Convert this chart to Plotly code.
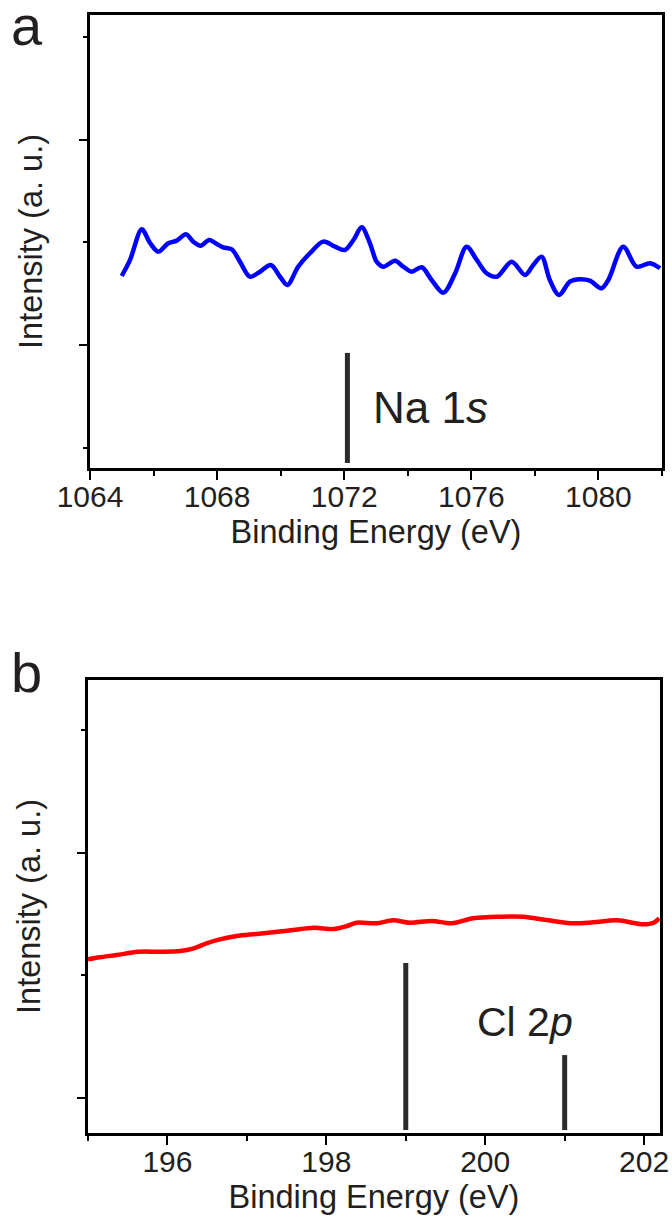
import plotly.graph_objects as go

# ---------------- data ----------------
# Panel a: Na 1s region (binding energy in eV, intensity in a.u.)
na_energy = [1065.00, 1065.26, 1065.63, 1065.89, 1066.15, 1066.46, 1066.73, 1067.02,
             1067.25, 1067.48, 1067.75, 1067.99, 1068.19, 1068.46, 1068.72, 1069.03,
             1069.35, 1069.69, 1069.98, 1070.21, 1070.55, 1070.92, 1071.34, 1071.71,
             1072.02, 1072.29, 1072.55, 1072.81, 1073.02, 1073.23, 1073.60, 1073.86,
             1074.12, 1074.44, 1074.75, 1075.12, 1075.49, 1075.85, 1076.17, 1076.48,
             1076.80, 1077.27, 1077.69, 1077.95, 1078.21, 1078.47, 1078.76, 1079.10,
             1079.42, 1079.73, 1080.10, 1080.31, 1080.78, 1081.20, 1081.62, 1081.94]
na_intensity = [1.674, 1.830, 2.128, 1.995, 1.910, 1.992, 2.018, 2.080,
                2.008, 1.969, 2.024, 1.985, 1.953, 1.934, 1.813, 1.667,
                1.716, 1.781, 1.667, 1.586, 1.764, 1.895, 2.008, 1.959,
                1.927, 2.024, 2.148, 1.992, 1.813, 1.764, 1.823, 1.764,
                1.716, 1.759, 1.635, 1.511, 1.700, 1.959, 1.830, 1.700,
                1.667, 1.813, 1.684, 1.781, 1.862, 1.635, 1.489, 1.619,
                1.642, 1.628, 1.554, 1.635, 1.959, 1.764, 1.798, 1.749]

# Panel b: Cl 2p region
cl_energy = [195.00, 195.15, 195.36, 195.63, 195.91, 196.16, 196.33, 196.49,
             196.66, 196.87, 197.12, 197.38, 197.58, 197.84, 198.09, 198.26,
             198.38, 198.63, 198.84, 199.05, 199.33, 199.58, 199.85, 200.19,
             200.48, 200.77, 201.11, 201.36, 201.66, 201.99, 202.12, 202.19]
cl_intensity = [1.130, 1.147, 1.165, 1.192, 1.192, 1.198, 1.220, 1.261,
                1.293, 1.320, 1.337, 1.355, 1.369, 1.388, 1.377, 1.402,
                1.429, 1.424, 1.448, 1.429, 1.443, 1.424, 1.465, 1.478,
                1.478, 1.451, 1.424, 1.432, 1.448, 1.416, 1.429, 1.465]

# Reference (standard) line positions
na_ref_energy = [1072.1]
na_ref_top = [0.925]
na_ref_bottom = [-0.146]

cl_ref_energy = [199.0, 201.0]
cl_ref_top = [1.100, 0.350]
cl_ref_bottom = [-0.261, -0.261]

na_label = "Na 1<i>s</i>"
cl_label = "Cl 2<i>p</i>"
x_title = "Binding Energy (eV)"
y_title = "Intensity (a. u.)"

# ---------------- figure ----------------
W, H = 672, 1224
FONT = "Liberation Sans, Arial, sans-serif"
TXT = "#231f20"
BAR = "#2d2a2b"

fig = go.Figure()

fig.add_trace(go.Scatter(x=na_energy, y=na_intensity, mode="lines",
                         line=dict(color="#0000ff", width=4.5, shape="spline", smoothing=0.9),
                         xaxis="x", yaxis="y", showlegend=False))
for e, t, b in zip(na_ref_energy, na_ref_top, na_ref_bottom):
    fig.add_trace(go.Scatter(x=[e, e], y=[b, t], mode="lines",
                             line=dict(color=BAR, width=5), xaxis="x", yaxis="y",
                             showlegend=False))

fig.add_trace(go.Scatter(x=cl_energy, y=cl_intensity, mode="lines",
                         line=dict(color="#ff0000", width=4.5, shape="spline", smoothing=0.9),
                         xaxis="x2", yaxis="y2", showlegend=False))
for e, t, b in zip(cl_ref_energy, cl_ref_top, cl_ref_bottom):
    fig.add_trace(go.Scatter(x=[e, e], y=[b, t], mode="lines",
                             line=dict(color=BAR, width=5), xaxis="x2", yaxis="y2",
                             showlegend=False))


def xaxis_style(domain, rng, tick0, dtick, minor_dtick, anchor):
    return dict(domain=domain, range=rng, anchor=anchor, tick0=tick0, dtick=dtick,
                automargin=False,
                showline=True, mirror=True, linecolor="black", linewidth=2.5,
                ticks="outside", ticklen=9, tickwidth=2, tickcolor="black",
                minor=dict(dtick=minor_dtick, tick0=tick0, ticks="outside", ticklen=5,
                           tickwidth=2, tickcolor="black"),
                showgrid=False, zeroline=False,
                tickfont=dict(family=FONT, size=30, color=TXT),
                title=dict(text=x_title, font=dict(family=FONT, size=32.5, color=TXT), standoff=9),
                ticklabelstandoff=-9)


def yaxis_style(domain, rng, tick0, anchor):
    return dict(domain=domain, range=rng, anchor=anchor, tick0=tick0, dtick=2,
                automargin=False,
                showline=True, mirror=True, linecolor="black", linewidth=2.5,
                ticks="outside", ticklen=8, tickwidth=2, tickcolor="black",
                minor=dict(dtick=1, tick0=0, ticks="outside", ticklen=4,
                           tickwidth=2, tickcolor="black"),
                showticklabels=False, showgrid=False, zeroline=False,
                title=dict(text=y_title, font=dict(family=FONT, size=32.5, color=TXT), standoff=27))


fig.update_layout(
    width=W, height=H, margin=dict(l=0, r=0, t=0, b=0),
    paper_bgcolor="white", plot_bgcolor="white",
    xaxis=xaxis_style([90 / W, 662 / W], [1064, 1082], 1064, 4, 2, "y"),
    yaxis=yaxis_style([1 - 468 / H, 1 - 15 / H], [-0.195, 4.214], 1, "x"),
    xaxis2=xaxis_style([88 / W, 660 / W], [195, 202.2], 196, 2, 1, "y2"),
    yaxis2=yaxis_style([1 - 1133 / H, 1 - 680 / H], [-0.285, 3.407], 0, "x2"),
)

# Peak labels
fig.add_annotation(x=1072.85, y=0.389, xref="x", yref="y", text=na_label, showarrow=False,
                   xanchor="left", yanchor="middle",
                   font=dict(family=FONT, size=44, color=TXT))
fig.add_annotation(x=199.87, y=0.619, xref="x2", yref="y2", text=cl_label, showarrow=False,
                   xanchor="left", yanchor="middle",
                   font=dict(family=FONT, size=41, color=TXT))

# Panel letters
fig.add_annotation(x=10 / W, y=1 - 25 / H, xref="paper", yref="paper", text="a",
                   showarrow=False, xanchor="left", yanchor="middle", borderpad=0,
                   font=dict(family=FONT, size=56, color=TXT))
fig.add_annotation(x=10 / W, y=1 - 640 / H, xref="paper", yref="paper", text="b",
                   showarrow=False, xanchor="left", yanchor="top", borderpad=0,
                   font=dict(family=FONT, size=56, color=TXT))

fig.write_html("out.html")
